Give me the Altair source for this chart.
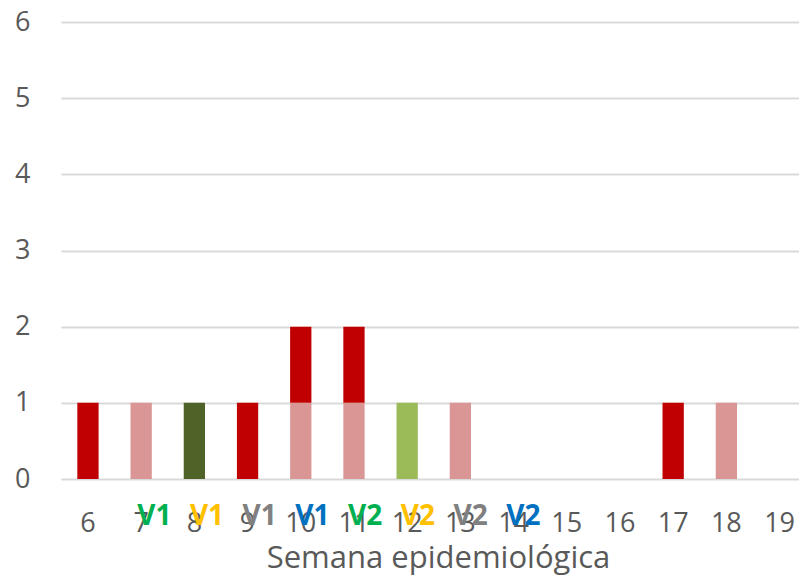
import altair as alt
import pandas as pd

weeks = list(range(6, 20))
dark_red = [1, 0, 0, 1, 1, 1, 0, 0, 0, 0, 0, 1, 0, 0]
pink = [0, 1, 0, 0, 1, 1, 0, 1, 0, 0, 0, 0, 1, 0]
olive = [0, 0, 1, 0, 0, 0, 0, 0, 0, 0, 0, 0, 0, 0]
light_green = [0, 0, 0, 0, 0, 0, 1, 0, 0, 0, 0, 0, 0, 0]

series_names = ["pink", "dark_red", "olive", "light_green"]
series_values = [pink, dark_red, olive, light_green]
series_colors = ["#DA9694", "#C00000", "#4F6228", "#9BBB59"]

vac_weeks = [7, 8, 9, 10, 11, 12, 13, 14]
vac_labels = ["V1", "V1", "V1", "V1", "V2", "V2", "V2", "V2"]
vac_colors = ["#00B050", "#FFC000", "#808080", "#0070C0",
              "#00B050", "#FFC000", "#808080", "#0070C0"]

rows = []
for k, (name, vals) in enumerate(zip(series_names, series_values)):
    for w, v in zip(weeks, vals):
        if v:
            rows.append({"week": w, "serie": name, "valor": v, "orden": k})
df = pd.DataFrame(rows)

vdf = pd.DataFrame({"week": vac_weeks, "label": vac_labels, "color": vac_colors, "y": [0] * 8})

FONT = "Open Sans"
GREY = "#595959"

xscale = alt.Scale(domain=weeks, paddingInner=0.6, paddingOuter=0.236, align=0.65)
# the vaccine labels sit on a slightly tighter row of their own
vscale = alt.Scale(domain=weeks, paddingInner=0, paddingOuter=0.25, align=0.77)

bars = alt.Chart(df).mark_bar().encode(
    x=alt.X("week:O", scale=xscale,
            axis=alt.Axis(title="Semana epidemiológica", labelAngle=0, domain=False, ticks=False,
                          labelFontSize=27, labelColor=GREY, labelPadding=31, labelFont=FONT,
                          titleFontSize=31, titleColor=GREY, titleFont=FONT, titleFontWeight="normal",
                          titlePadding=7, titleX=377)),
    y=alt.Y("valor:Q", stack="zero", scale=alt.Scale(domain=[0, 6]),
            axis=alt.Axis(title=None, values=[0, 1, 2, 3, 4, 5, 6], format="d", domain=False, ticks=False,
                          labelFontSize=27, labelColor=GREY, labelPadding=31, labelFont=FONT,
                          gridColor="#D9D9D9", gridWidth=2)),
    color=alt.Color("serie:N", scale=alt.Scale(domain=series_names, range=series_colors), legend=None),
    order=alt.Order("orden:Q"),
)

vtext = alt.Chart(vdf).mark_text(fontSize=28, fontWeight="bold", font=FONT, dy=38).encode(
    x=alt.X("week:O", scale=vscale, axis=None),
    y=alt.Y("y:Q", scale=alt.Scale(domain=[0, 6])),
    text="label:N",
    color=alt.Color("color:N", scale=None),
)

chart = (bars + vtext).resolve_scale(x="independent").properties(
    width=738, height=457,
    autosize=alt.AutoSizeParams(type="none"),
    padding={"left": 53, "top": 14, "right": 0, "bottom": 99},
).configure_view(stroke=None)

chart.save("out.html", embed_options={"renderer": "svg", "actions": False})
